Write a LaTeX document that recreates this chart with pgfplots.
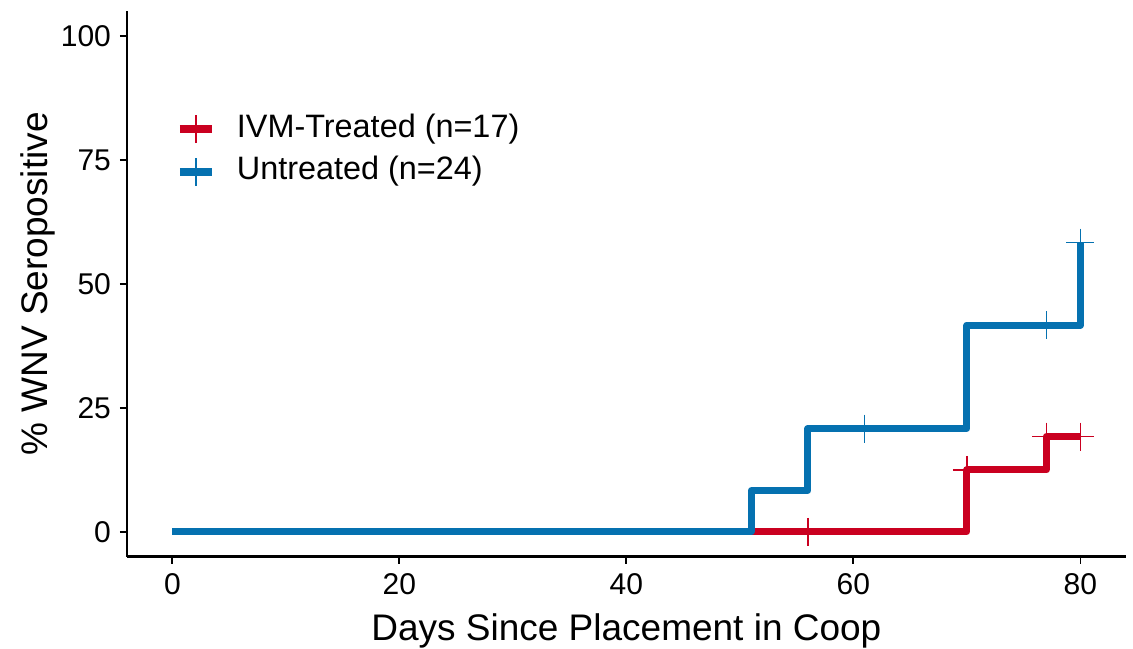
\documentclass[border=0pt]{standalone}
\usepackage{pgfplots}
\pgfplotsset{compat=1.18}
\usepackage{fontspec}
\setmainfont{Liberation Sans}
\definecolor{ivmred}{RGB}{202,0,32}
\definecolor{untblue}{RGB}{5,113,176}
\begin{document}
\begin{tikzpicture}
\begin{axis}[
  scale only axis,
  width=499.4pt, height=272.8pt,
  xmin=-4, xmax=84, ymin=-5, ymax=105,
  axis x line=bottom, axis y line=left,
  axis line style={-, line width=1.3pt, black},
  xtick={0,20,40,60,80}, ytick={0,25,50,75,100},
  tick align=outside, tick style={line width=0.9pt, black},
  major tick length=3.5pt,
  /pgf/number format/assume math mode=true,
  tick label style={font=\fontsize{15pt}{18pt}\selectfont, black},
  xticklabel style={yshift=-1.5pt},
  yticklabel style={xshift=-1pt},
  xlabel={Days Since Placement in Coop},
  ylabel={\% WNV Seropositive},
  label style={font=\fontsize{18.5pt}{21pt}\selectfont},
  xlabel style={at={(axis description cs:0.5,-0.1527)}, anchor=base},
  ylabel style={at={(axis description cs:-0.0801,0.5)}, anchor=base, rotate=0},
  legend style={draw=none, fill=none, at={(axis description cs:0.049,0.7445)}, anchor=west,
    inner sep=0pt, outer sep=0pt, row sep=6.3pt, column sep=10.5pt,
    font=\fontsize{16.2pt}{19pt}\selectfont,
    nodes={inner sep=0pt, text height=11.5pt, text depth=3.5pt}},
  legend cell align=left,
  clip=false,
]
\addplot[const plot, ivmred, line width=3.5pt, line join=round, line cap=butt,
  legend image code/.code={
    \draw[ivmred, line width=4pt] (0pt,0pt) -- (16pt,0pt);
    \draw[ivmred, line width=0.65pt] (8pt,-7pt) -- (8pt,7pt);
  }]
  coordinates {(0,0) (70,12.5) (77,19.23) (80,19.23)};
\addlegendentry{IVM-Treated (n=17)}
\addplot[const plot, untblue, line width=3.5pt, line join=round, line cap=butt,
  legend image code/.code={
    \draw[untblue, line width=4pt] (0pt,0pt) -- (16pt,0pt);
    \draw[untblue, line width=0.65pt] (8pt,-7pt) -- (8pt,7pt);
  }]
  coordinates {(0,0) (51,8.33) (56,20.83) (70,41.67) (80,58.33)};
\addlegendentry{Untreated (n=24)}
\addplot[only marks, mark=+, mark size=7pt, ivmred, mark options={line width=0.65pt}, forget plot]
  coordinates {(56,0) (70,12.5) (77,19.23) (80,19.23)};
\addplot[only marks, mark=+, mark size=7pt, untblue, mark options={line width=0.65pt}, forget plot]
  coordinates {(61,20.83) (77,41.67) (80,58.33)};
\end{axis}
\pgfresetboundingbox
\useasboundingbox ([xshift=-63.5pt, yshift=-45.65pt]current axis.south west) rectangle ++(566.5pt,324pt);
\end{tikzpicture}
\end{document}
